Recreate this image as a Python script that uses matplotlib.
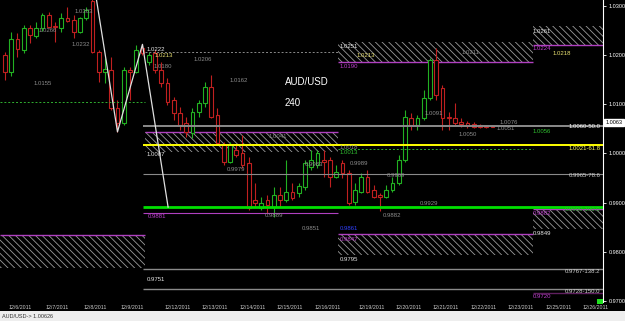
import matplotlib
matplotlib.use('Agg')
import matplotlib.pyplot as plt
from matplotlib.patches import Rectangle

plt.rcParams['font.family'] = ['Liberation Sans', 'DejaVu Sans']
plt.rcParams['hatch.linewidth'] = 0.6

#---Candle data (AUD/USD, 240 min)---
opens = [1.0200, 1.0166, 1.0233, 1.0211, 1.0255, 1.0239, 1.0255, 1.0282, 1.0259, 1.0255,
         1.0276, 1.0272, 1.0247, 1.0276, 1.0310, 1.0206, 1.0166, 1.0170, 1.0093, 1.0062,
         1.0170, 1.0166, 1.0215, 1.0186, 1.0204, 1.0170, 1.0143, 1.0109, 1.0082, 1.0062,
         1.0042, 1.0084, 1.0103, 1.0135, 1.0078, 1.0017, 0.9983, 1.0007, 1.0001, 0.9981,
         0.9905, 0.9889, 0.9905, 0.9891, 0.9916, 0.9905, 0.9922, 0.9920, 0.9932, 0.9973,
         0.9977, 0.9987, 0.9987, 0.9952, 0.9981, 0.9960, 0.9901, 0.9922, 0.9952, 0.9926,
         0.9916, 0.9912, 0.9926, 0.9940, 0.9987, 1.0072, 1.0058, 1.0072, 1.0113, 1.0190,
         1.0133, 1.0074, 1.0072, 1.0064, 1.0062, 1.0060, 1.0058, 1.0056, 1.0056]
highs = [1.0206, 1.0247, 1.0245, 1.0261, 1.0261, 1.0267, 1.0286, 1.0288, 1.0267, 1.0286,
         1.0298, 1.0282, 1.0278, 1.0298, 1.0316, 1.0211, 1.0194, 1.0196, 1.0109, 1.0176,
         1.0176, 1.0221, 1.0222, 1.0206, 1.0211, 1.0186, 1.0154, 1.0115, 1.0095, 1.0074,
         1.0093, 1.0109, 1.0145, 1.0160, 1.0093, 1.0023, 1.0023, 1.0017, 1.0038, 0.9993,
         0.9940, 0.9912, 0.9916, 0.9932, 0.9932, 0.9987, 0.9940, 0.9940, 0.9987, 1.0007,
         1.0007, 1.0007, 0.9993, 0.9977, 0.9987, 0.9966, 0.9940, 0.9960, 0.9966, 0.9936,
         0.9920, 0.9936, 0.9952, 0.9997, 1.0088, 1.0082, 1.0078, 1.0129, 1.0194, 1.0215,
         1.0139, 1.0084, 1.0103, 1.0072, 1.0066, 1.0064, 1.0060, 1.0058, 1.0058]
lows = [1.0149, 1.0158, 1.0196, 1.0204, 1.0225, 1.0235, 1.0249, 1.0255, 1.0227, 1.0247,
        1.0267, 1.0235, 1.0245, 1.0272, 1.0204, 1.0145, 1.0143, 1.0088, 1.0044, 1.0058,
        1.0109, 1.0164, 1.0200, 1.0180, 1.0164, 1.0135, 1.0099, 1.0068, 1.0048, 1.0034,
        1.0032, 1.0074, 1.0095, 1.0072, 1.0017, 0.9977, 0.9981, 0.9993, 0.9970, 0.9885,
        0.9891, 0.9885, 0.9879, 0.9870, 0.9891, 0.9901, 0.9905, 0.9912, 0.9926, 0.9966,
        0.9970, 0.9952, 0.9932, 0.9950, 0.9950, 0.9895, 0.9895, 0.9920, 0.9920, 0.9909,
        0.9882, 0.9909, 0.9922, 0.9936, 0.9983, 1.0048, 1.0048, 1.0068, 1.0109, 1.0109,
        1.0048, 1.0048, 1.0058, 1.0054, 1.0052, 1.0052, 1.0052, 1.0052, 1.0054]
closes = [1.0166, 1.0233, 1.0213, 1.0255, 1.0241, 1.0255, 1.0282, 1.0257, 1.0257, 1.0276,
          1.0269, 1.0247, 1.0276, 1.0292, 1.0206, 1.0166, 1.0172, 1.0093, 1.0062, 1.0170,
          1.0166, 1.0211, 1.0204, 1.0200, 1.0170, 1.0143, 1.0105, 1.0082, 1.0058, 1.0044,
          1.0084, 1.0103, 1.0135, 1.0074, 1.0021, 0.9983, 1.0017, 0.9997, 0.9977, 0.9889,
          0.9899, 0.9899, 0.9895, 0.9916, 0.9905, 0.9922, 0.9909, 0.9934, 0.9981, 0.9987,
          1.0001, 0.9983, 0.9952, 0.9962, 0.9960, 0.9899, 0.9926, 0.9952, 0.9922, 0.9912,
          0.9912, 0.9926, 0.9940, 0.9987, 1.0074, 1.0058, 1.0072, 1.0113, 1.0190, 1.0119,
          1.0072, 1.0072, 1.0062, 1.0060, 1.0056, 1.0054, 1.0054, 1.0054, 1.0054]

#---Zigzag---
zz_bar = [14.6, 18, 22, 26.1]
zz_price = [1.0316, 1.0044, 1.0222, 0.9891]

#---Supply / demand zones---
zone_x0 = [-0.8, 22.4, 53.3, 84.5, 53.3, 84.5]
zone_x1 = [22.4, 53.3, 84.5, 95.7, 84.5, 95.7]
zone_lo = [0.9767, 1.0003, 1.0186, 1.0221, 0.9794, 0.9846]
zone_hi = [0.9834, 1.0044, 1.0227, 1.0259, 0.9836, 0.9887]
zone_edge = [0.9834, 1.0044, 1.0186, 1.0221, 0.9836, 0.9887]

#---Horizontal levels---
lvl_price = [1.0056, 1.0017, 0.9958, 0.9891, 0.9879, 0.9765, 0.9724, 0.9716, 1.0105, 1.0206, 1.0009]
lvl_x0 = [22.1, 22.1, 22.1, 22.1, 22.1, 22.1, 22.1, 84.5, -0.8, 22.4, 53.3]
lvl_x1 = [95.7, 95.7, 95.7, 95.7, 53.3, 95.7, 95.7, 95.7, 22.4, 53.3, 84.5]
lvl_col = ['#8a8a8a', '#ffff00', '#8a8a8a', '#00e000', '#b040c0', '#8a8a8a', '#8a8a8a',
           '#602060', '#30b030', '#8a8a8a', '#30b030']
lvl_lw = [1.4, 1.4, 0.8, 2.0, 0.8, 1.0, 1.0, 1.0, 0.7, 0.7, 0.7]
lvl_ls = ['-', '-', '-', '-', '-', '-', '-', '-', (0, (2, 2)), (0, (2, 2)), (0, (2, 2))]

#---Small price labels---
lab_x = [11.2, 5.4, 10.7, 4.6, 22.7, 24.0, 23.7, 30.1, 36.0, 53.6, 56.3, 53.6, 73.1, 84.5,
         84.5, 87.7, 22.7, 42.1, 53.6, 53.6, 67.2, 72.6, 79.2, 78.7, 84.5, 35.5, 48.0, 55.2,
         61.1, 66.4, 60.5, 41.6, 22.9, 47.5, 53.6, 53.6, 53.6, 84.5, 84.5, 84.5, 22.7]
lab_y = [1.0288, 1.0251, 1.0221, 1.0143, 1.0211, 1.0200, 1.0176, 1.0192, 1.0149, 1.0217,
         1.0200, 1.0176, 1.0206, 1.0249, 1.0213, 1.0204, 0.9997, 1.0034, 1.0013, 1.0001,
         1.0082, 1.0038, 1.0064, 1.0050, 1.0044, 0.9968, 0.9977, 0.9979, 0.9956, 0.9899,
         0.9874, 0.9874, 0.9872, 0.9848, 0.9848, 0.9826, 0.9785, 0.9877, 0.9838, 0.9710, 0.9743]
lab_txt = ['1.0303', '1.0266', '1.0232', '1.0155', '1.0222', '1.0213', '1.0180', '1.0206',
           '1.0162', '1.0251', '1.0213', '1.0190', '1.0211', '1.0261', '1.0224', '1.0218',
           '1.0007', '1.0041', '1.0018', '1.0013', '1.0091', '1.0050', '1.0076', '1.0051',
           '1.0056', '0.9979', '0.9983', '0.9989', '0.9969', '0.9929', '0.9882', '0.9889',
           '0.9881', '0.9851', '0.9861', '0.9847', '0.9795', '0.9882', '0.9849', '0.9720', '0.9751']
lab_col = ['g', 'g', 'g', 'g', 'w', 'y', 'g', 'g', 'g', 'w', 'y', 'p', 'g', 'w', 'p', 'y',
           'w', 'g', 'g', 'G', 'g', 'g', 'g', 'g', 'G', 'g', 'g', 'g', 'g', 'g', 'g', 'g',
           'p', 'g', 'b', 'p', 'w', 'p', 'w', 'p', 'w']
colmap = {'g': '#8c8c8c', 'w': '#e6e6e6', 'y': '#e8e070', 'p': '#c040d0', 'G': '#30c030', 'b': '#3040ff'}

#---Fibonacci labels (right side)---
fib_txt = ['1.0060-50.0', '1.0021-61.8', '0.9965-78.6', '0.9900-100.0', '0.9767-138.2', '0.9728-150.0']
fib_y = [1.0054, 1.0011, 0.9956, 0.9887, 0.9759, 0.9720]
fib_col = ['#ffffff', '#ffff60', '#d0d0d0', '#30c030', '#d0d0d0', '#d0d0d0']

#---Axis labels---
date_pos = [0.5, 6.5, 12.5, 18.5, 25.5, 31.5, 37.5, 43.5, 49.5, 56.5, 62.5, 68.5, 74.5, 80.5, 86.5, 92.5]
dates = ['12/6/2011', '12/7/2011', '12/8/2011', '12/9/2011', '12/12/2011', '12/13/2011',
         '12/14/2011', '12/15/2011', '12/16/2011', '12/19/2011', '12/20/2011', '12/21/2011',
         '12/22/2011', '12/23/2011', '12/25/2011', '12/26/2011']
price_ticks = [1.03, 1.02, 1.01, 1.00, 0.99, 0.98, 0.97]
last_price = 1.0063

#------Figure------
fig = plt.figure(figsize=(6.25, 3.21), dpi=100, facecolor='black')
ax = fig.add_axes([0, 19 / 321, 603 / 625, 302 / 321])
ax.set_facecolor('black')
ax.set_xlim(-0.8, 95.7)
ax.set_ylim(0.96979, 1.03122)

#------Zones------
for x0, x1, lo, hi, edge in zip(zone_x0, zone_x1, zone_lo, zone_hi, zone_edge):
    ax.add_patch(Rectangle((x0, lo), x1 - x0, hi - lo, facecolor='black', edgecolor='#9a9a9a',
                           hatch='\\\\\\\\\\', lw=0, zorder=1))
    ax.hlines(edge, x0, x1, color='#b040c0', lw=1.0, zorder=2)

#------Candles------
for i, (o, h, l, c) in enumerate(zip(opens, highs, lows, closes)):
    col = '#22b022' if c >= o else '#c02020'
    ax.vlines(i, l, h, color=col, lw=0.8, zorder=3)
    ax.add_patch(Rectangle((i - 0.3, min(o, c)), 0.6, max(abs(c - o), 0.00006),
                           facecolor='black', edgecolor=col, lw=0.8, zorder=4))

#------Levels------
for p, x0, x1, col, lw, ls in zip(lvl_price, lvl_x0, lvl_x1, lvl_col, lvl_lw, lvl_ls):
    ax.hlines(p, x0, x1, color=col, lw=lw, linestyles=[ls], zorder=5)

ax.plot(zz_bar, zz_price, color='#e0e0e0', lw=0.9, zorder=6)

#------Texts------
for x, y, t, c in zip(lab_x, lab_y, lab_txt, lab_col):
    ax.text(x, y, t, color=colmap[c], fontsize=4.3, va='center', ha='left', zorder=7)
for t, y, c in zip(fib_txt, fib_y, fib_col):
    ax.text(95.3, y, t, color=c, fontsize=4.3, va='center', ha='right', zorder=7)

ax.text(44.8, 1.0145, 'AUD/USD', color='white', fontsize=7, va='center', ha='left')
ax.text(44.8, 1.0103, '240', color='white', fontsize=7, va='center', ha='left')

#------Axes styling------
for s in ['top', 'left', 'bottom']:
    ax.spines[s].set_visible(False)
ax.spines['right'].set_color('white')
ax.spines['right'].set_linewidth(0.8)
ax.yaxis.tick_right()
ax.set_yticks(price_ticks)
ax.set_yticklabels(['%.4f' % v for v in price_ticks])
ax.tick_params(axis='y', colors='white', labelsize=4, length=2, width=0.6, pad=2)
ax.set_xticks(date_pos)
ax.set_xticklabels(dates, ha='left')
ax.tick_params(axis='x', colors='#cccccc', labelsize=3.8, length=0, pad=2)

ax.text(1.004, last_price, '%.4f' % last_price, transform=ax.get_yaxis_transform(),
        fontsize=4, color='black', va='center', ha='left', clip_on=False,
        bbox=dict(facecolor='white', edgecolor='white', pad=0.8))

#------Status bar------
fig.patches.append(Rectangle((0, 0), 1, 10 / 321, transform=fig.transFigure,
                             facecolor='#eeeeee', edgecolor='none'))
fig.patches.append(Rectangle((597 / 625, 17 / 321), 6 / 625, 5 / 321, transform=fig.transFigure,
                             facecolor='#20e020', edgecolor='none'))
fig.text(2 / 625, 5 / 321, 'AUD/USD-> 1.00626', fontsize=4, color='#333333', va='center')

fig.savefig('out.png', dpi=100, facecolor='black')
